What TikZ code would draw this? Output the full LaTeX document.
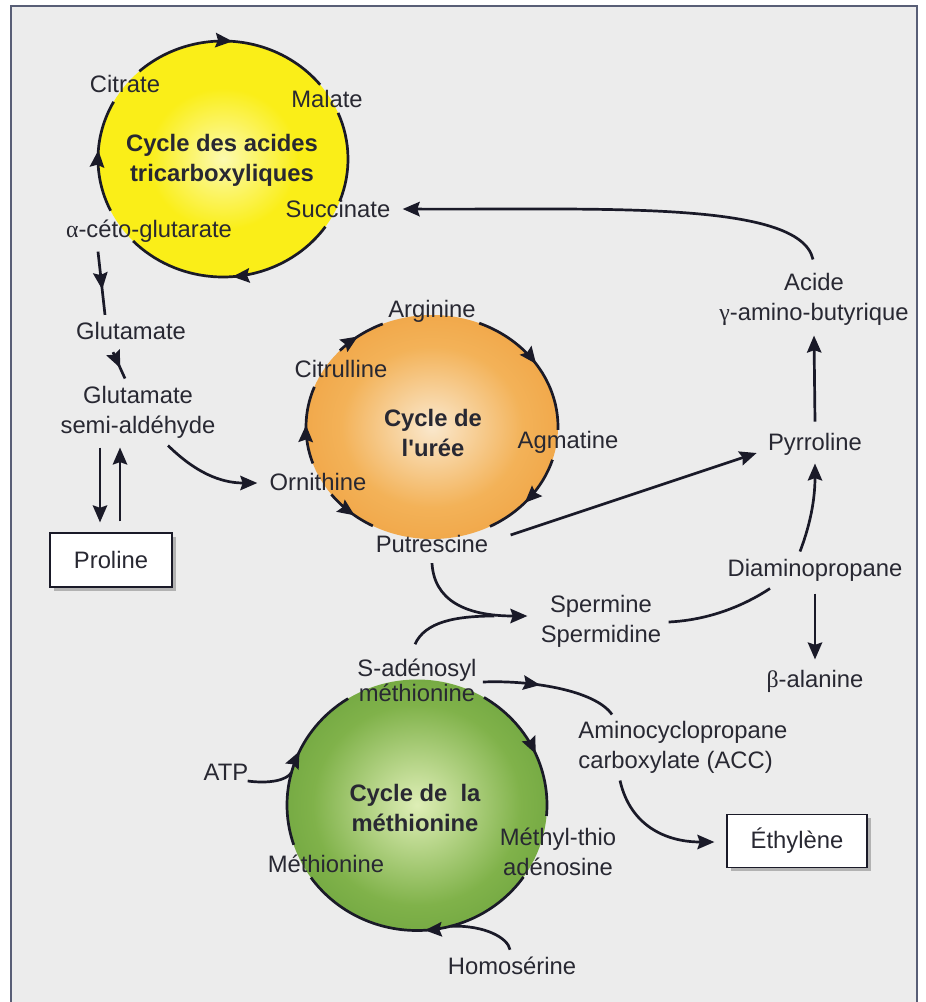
\documentclass[tikz,border=0pt]{standalone}
\usepackage{fontspec}
\setmainfont{Liberation Sans}
\newfontfamily\grk{Liberation Serif}
\usetikzlibrary{arrows.meta,decorations.markings,shadows}

\definecolor{fond}{RGB}{236,236,236}
\definecolor{cadre}{RGB}{88,94,118}
\definecolor{trait}{RGB}{26,26,40}
\definecolor{texte}{RGB}{40,40,50}
\definecolor{jaune}{RGB}{250,238,24}
\definecolor{jaunec}{RGB}{252,250,175}
\definecolor{orangef}{RGB}{228,132,35}
\definecolor{orangeb}{RGB}{238,152,52}
\definecolor{orangem}{RGB}{243,178,88}
\definecolor{orangec}{RGB}{250,232,205}
\definecolor{vertf}{RGB}{72,135,38}
\definecolor{vertm}{RGB}{128,178,74}
\definecolor{vertc}{RGB}{222,238,182}

\pgfdeclareradialshading{tcashade}{\pgfpoint{0bp}{0bp}}{color(0bp)=(jaunec); color(15bp)=(jaune); color(50bp)=(jaune)}
\pgfdeclareradialshading{ureeshade}{\pgfpoint{0bp}{0bp}}{color(0bp)=(orangec); color(18bp)=(orangem); color(38bp)=(orangeb); color(50bp)=(orangef)}
\pgfdeclareradialshading{metshade}{\pgfpoint{0bp}{0bp}}{color(0bp)=(vertc); color(20bp)=(vertm); color(50bp)=(vertf)}

\begin{document}
\begin{tikzpicture}[x=0.5pt, y=-0.5pt,
>={Stealth[length=8.5pt,width=7.2pt,inset=1.2pt]},
mol/.style={text=texte, align=center, inner sep=2pt, font=\fontsize{11.9}{15}\selectfont},
cyc/.style={mol, font=\fontsize{11.9}{15}\selectfont\bfseries},
boite/.style={mol, draw=trait, line width=0.6pt, fill=white,
    drop shadow={shadow xshift=1.8pt, shadow yshift=-1.8pt, fill=black!45, opacity=0.6}},
bord/.style={draw=trait, line width=1.35pt},
fleche/.style={bord, ->},
midarrow/.style={postaction={decorate},
    decoration={markings, mark=at position #1 with {\arrow{>}}}},]
\useasboundingbox (0,0) rectangle (926,1002);
\draw[fill=fond, draw=cadre, line width=0.7pt] (11,6) rectangle (917,1012);

% cycles
\coordinate (tcac) at (223,159);
\coordinate (ureec) at (432,427);
\coordinate (metc) at (417,805);
\shade[shading=tcashade] (tcac) ellipse [x radius=125, y radius=118];
\shade[shading=ureeshade] (ureec) ellipse [x radius=126, y radius=112];
\shade[shading=metshade] (metc) ellipse [x radius=130, y radius=125.5];

\draw[bord, midarrow=0.5] (tcac) ++(-132:125 and 118) arc[start angle=-132, end angle=-39, x radius=125, y radius=118];
\draw[bord] (tcac) ++(-23:125 and 118) arc[start angle=-23, end angle=21, x radius=125, y radius=118];
\draw[bord, midarrow=0.5] (tcac) ++(35:125 and 118) arc[start angle=35, end angle=136, x radius=125, y radius=118];
\draw[bord, midarrow=0.55] (tcac) ++(154:125 and 118) arc[start angle=154, end angle=209, x radius=125, y radius=118];

\draw[bord, midarrow=0.5] (ureec) ++(161:126 and 112) arc[start angle=161, end angle=201, x radius=126, y radius=112];
\draw[bord, midarrow=0.45] (ureec) ++(223:126 and 112) arc[start angle=223, end angle=247, x radius=126, y radius=112];
\draw[bord, midarrow=0.5] (ureec) ++(-68:126 and 112) arc[start angle=-68, end angle=1.5, x radius=126, y radius=112];
\draw[bord, midarrow=0.55] (ureec) ++(17:126 and 112) arc[start angle=17, end angle=62.6, x radius=126, y radius=112];
\draw[bord, midarrow=0.6] (ureec) ++(143:126 and 112) arc[start angle=143, end angle=118, x radius=126, y radius=112];

\draw[bord, midarrow=0.57] (metc) ++(161.5:130 and 125.5) arc[start angle=161.5, end angle=238, x radius=130, y radius=125.5];
\draw[bord, midarrow=0.55] (metc) ++(-59:130 and 125.5) arc[start angle=-59, end angle=5, x radius=130, y radius=125.5];
\draw[bord, midarrow=0.47] (metc) ++(35:130 and 125.5) arc[start angle=35, end angle=144.7, x radius=130, y radius=125.5];
\path (metc) ++(195:130 and 125.5) coordinate (atpin);
\path (metc) ++(75:130 and 125.5) coordinate (homoin);

% labels
\node[mol] (cit) at (125,84) {Citrate};
\node[mol] (mal) at (327,99) {Malate};
\node[cyc] (tca) at (222,160) {Cycle des acides\\tricarboxyliques};
\node[mol] (succ) at (338,209) {Succinate};
\node[mol] (akg) at (149,231) {{\grk α}-céto-glutarate};
\node[mol] (glu) at (131,331) {Glutamate};
\node[mol] (gsa) at (138,412) {Glutamate\\semi-aldéhyde};
\node[boite, minimum width=61pt, minimum height=27pt] (pro) at (111,560) {Proline};
\node[mol] (arg) at (432,311) {Arginine};
\node[mol] (citr) at (341,369) {Citrulline};
\node[cyc] (uree) at (433,433) {Cycle de\\l\textquotesingle urée};
\node[mol] (agm) at (568,442) {Agmatine};
\node[mol] (orn) at (318,482) {Ornithine};
\node[mol] (putr) at (432,544) {Putrescine};
\node[mol] (gaba) at (814,299) {Acide\\{\grk γ}-amino-butyrique};
\node[mol] (pyr) at (815,444) {Pyrroline};
\node[mol] (dap) at (815,570) {Diaminopropane};
\node[mol] (spm) at (601,621) {Spermine\\Spermidine};
\node[mol] (bala) at (815,681) {{\grk β}-alanine};
\node[mol] (sam) at (417,680) {S-adénosyl\\[-2.5pt]méthionine};
\node[mol, align=left, anchor=west] (acc) at (574,747) {Aminocyclopropane\\carboxylate (ACC)};
\node[mol] (atp) at (226,772) {ATP};
\node[cyc] (met) at (415,808) {Cycle de\ \ la\\méthionine};
\node[mol] (meth) at (326,864) {Méthionine};
\node[mol] (mta) at (558,852) {Méthyl-thio\\adénosine};
\node[boite, minimum width=70pt, minimum height=26.5pt] (eth) at (797,841) {Éthylène};
\node[mol] (homo) at (512,966) {Homosérine};

% connectors
\draw[fleche] (gaba.north) ++(-1,-9) .. controls (800,200) and (600,210) .. ([shift={(8,0)}]succ.east);
\draw[bord, midarrow=0.6] (akg.south) ++(-51,5) -- ([shift={(-26,-3)}]glu.north);
\draw[bord, midarrow=0.6] (glu.south) ++(-18,8) -- ([shift={(-13,-3)}]gsa.north);
\draw[fleche] (gsa.south) ++(-38,5) -- ([shift={(-11,-10)}]pro.north);
\draw[fleche] (pro.north) ++(9,-11) -- ([shift={(-18,5)}]gsa.south);
\draw[fleche] (gsa.south) ++(30,3) .. controls (195,472) and (220,483) .. ([shift={(-8,1)}]orn.west);
\draw[fleche] (putr.east) ++(18,-9) -- ([shift={(-7,9)}]pyr.west);
\draw[fleche] (pyr.north) ++(0,-7) -- ([shift={(0,6)}]gaba.south);
\draw[fleche] (dap.north) ++(-15,-3) .. controls (812,520) and (815,495) .. ([shift={(0,4)}]pyr.south);
\draw[fleche] (dap.south) ++(0,8) -- ([shift={(0,-6)}]bala.north);
\draw[bord] (spm.east) ++(3,1) .. controls (710,620) and (745,605) .. ([shift={(-45,3)}]dap.south);
\draw[fleche] (putr.south) ++(0,6) .. controls (434,600) and (465,616) .. ([shift={(-9,-5)}]spm.west);
\draw[bord] (sam.north) ++(-2,-10) .. controls (425,622) and (455,616) .. ([shift={(-42,-5)}]spm.west);
\draw[bord, midarrow=0.42] (sam.east) ++(2,2) .. controls (530,680) and (595,690) .. ([shift={(38,-2)}]acc.north west);
\draw[fleche] (acc.south west) ++(46,3) .. controls (630,825) and (665,842) .. ([shift={(-12,1)}]eth.west);
\draw[bord] (atp.east) ++(-5,9) .. controls (270,784) and (287,780) .. (atpin);
\draw[bord] (homo.north) ++(-2,-3) .. controls (508,938) and (485,925) .. (homoin);
\end{tikzpicture}
\end{document}
